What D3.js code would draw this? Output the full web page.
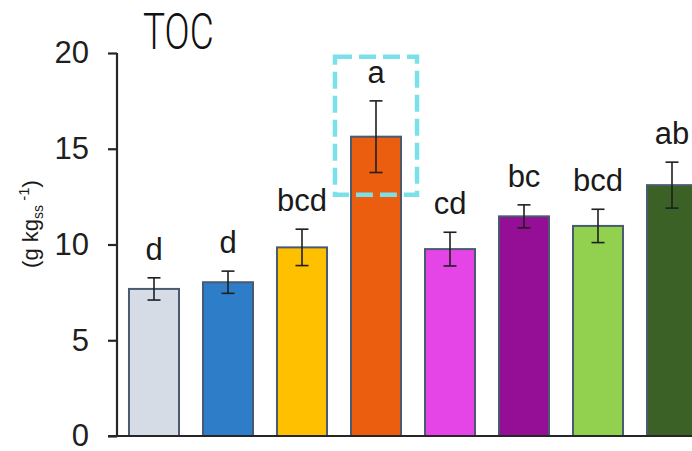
<!DOCTYPE html>
<html>
<head>
<meta charset="utf-8">
<script src="https://cdn.jsdelivr.net/npm/d3@7/dist/d3.min.js"></script>
<style>
  html, body { margin: 0; padding: 0; background: #fff; }
  svg { display: block; }
</style>
</head>
<body>
<svg id="chart" width="692" height="451"></svg>
<script>
// Treatments, mean TOC, standard error and significance letters
const categories = ["T1", "T2", "T3", "T4", "T5", "T6", "T7", "T8"];
const means      = [7.68, 8.03, 9.85, 15.63, 9.76, 11.47, 10.97, 13.1];
const errors     = [0.58, 0.58, 0.95, 1.87, 0.88, 0.6, 0.87, 1.2];
const letters    = ["d", "d", "bcd", "a", "cd", "bc", "bcd", "ab"];
const colors     = ["#d6dce5", "#2e7dc8", "#ffc000", "#eb5d0f", "#e545e6", "#950f96", "#92d050", "#3c6127"];
const yTicks     = [0, 5, 10, 15, 20];

const svg = d3.select("#chart");

const y = d3.scaleLinear().domain([0, 20]).range([436, 53]);
// the bar row runs past the right edge of the figure
const x = d3.scaleBand()
  .domain(categories)
  .range([117, 709])
  .paddingInner(0.324)
  .paddingOuter(0.162);

const rows = categories.map((c, i) => ({
  cat: c, mean: means[i], err: errors[i], letter: letters[i], color: colors[i]
}));

// bars
svg.append("g").selectAll("rect")
  .data(rows)
  .join("rect")
  .attr("x", d => x(d.cat))
  .attr("y", d => y(d.mean))
  .attr("width", x.bandwidth())
  .attr("height", d => y(0) - y(d.mean))
  .attr("fill", d => d.color)
  .attr("stroke", "#4a5a70")
  .attr("stroke-width", 2);

// error bars
const eb = svg.append("g").attr("stroke", "#1f1f1f").attr("stroke-width", 1.6);
const cap = 6.5;
rows.forEach(d => {
  const cx = x(d.cat) + x.bandwidth() / 2;
  eb.append("line").attr("x1", cx).attr("x2", cx)
    .attr("y1", y(d.mean + d.err)).attr("y2", y(d.mean - d.err));
  eb.append("line").attr("x1", cx - cap).attr("x2", cx + cap)
    .attr("y1", y(d.mean + d.err)).attr("y2", y(d.mean + d.err));
  eb.append("line").attr("x1", cx - cap).attr("x2", cx + cap)
    .attr("y1", y(d.mean - d.err)).attr("y2", y(d.mean - d.err));
});

// significance letters
svg.append("g").selectAll("text")
  .data(rows)
  .join("text")
  .attr("x", d => x(d.cat) + x.bandwidth() / 2)
  .attr("y", d => y(d.mean + d.err) - 18)
  .attr("text-anchor", "middle")
  .attr("font-family", "Liberation Sans, Arial, sans-serif")
  .attr("font-size", 31)
  .attr("fill", "#1a1a1a")
  .text(d => d.letter);

// y axis
const yAxis = d3.axisLeft(y).tickValues(yTicks).tickSize(9).tickPadding(19);
const gy = svg.append("g").attr("transform", "translate(117,0)").call(yAxis);
gy.select(".domain").attr("stroke", "#262626").attr("stroke-width", 2.2)
  .attr("d", `M0,${y(20)}V${y(0)}`);
gy.selectAll(".tick line").attr("stroke", "#262626").attr("stroke-width", 2.2);
gy.selectAll(".tick text")
  .attr("font-family", "Liberation Sans, Arial, sans-serif")
  .attr("font-size", 31)
  .attr("fill", "#1f1f1f");

// x axis baseline
svg.append("line")
  .attr("x1", 108).attr("x2", 692)
  .attr("y1", y(0)).attr("y2", y(0))
  .attr("stroke", "#262626").attr("stroke-width", 2.2);

// y axis unit label
const yl = svg.append("text")
  .attr("transform", "translate(38,224) rotate(-90)")
  .attr("text-anchor", "middle")
  .attr("font-family", "Liberation Sans, Arial, sans-serif")
  .attr("font-size", 22)
  .attr("fill", "#1a1a1a");
yl.append("tspan").text("(g kg");
yl.append("tspan").attr("font-size", 14).attr("dy", 5).text("ss");
yl.append("tspan").attr("font-size", 15).attr("dy", -14).text(" -1");
yl.append("tspan").attr("dy", 9).text(")");

// title
svg.append("text")
  .attr("transform", "translate(143,49) scale(0.74,1)")
  .attr("font-family", "Roboto, sans-serif")
  .attr("font-weight", 300)
  .attr("font-size", 50)
  .attr("fill", "#111")
  .text("TOC");

// highlight around the top treatment
const hi = rows[3];
svg.append("rect")
  .attr("x", x(hi.cat) - 16)
  .attr("y", y(19.8))
  .attr("width", x.bandwidth() + 32)
  .attr("height", y(12.6) - y(19.8))
  .attr("fill", "none")
  .attr("stroke", "#7be1e8")
  .attr("stroke-width", 4.5)
  .attr("stroke-dasharray", "17,7");
</script>
</body>
</html>
